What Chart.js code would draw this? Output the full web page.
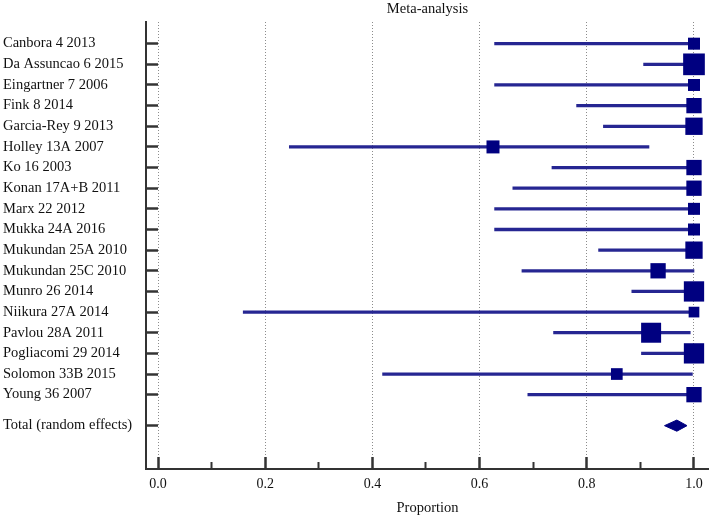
<!DOCTYPE html>
<html>
<head>
<meta charset="utf-8">
<script src="https://cdn.jsdelivr.net/npm/chart.js@4/dist/chart.umd.min.js"></script>
<style>
  html, body { margin: 0; padding: 0; background: #ffffff; }
  #wrap { width: 709px; height: 522px; position: relative; }
</style>
</head>
<body>
<div id="wrap"><canvas id="c"></canvas></div>
<script>
// ---- Data ----
const studies = [
  "Canbora 4 2013", "Da Assuncao 6 2015", "Eingartner 7 2006", "Fink 8 2014",
  "Garcia-Rey 9 2013", "Holley 13A 2007", "Ko 16 2003", "Konan 17A+B 2011",
  "Marx 22 2012", "Mukka 24A 2016", "Mukundan 25A 2010", "Mukundan 25C 2010",
  "Munro 26 2014", "Niikura 27A 2014", "Pavlou 28A 2011", "Pogliacomi 29 2014",
  "Solomon 33B 2015", "Young 36 2007"
];
const estimate = [1.0, 1.0, 1.0, 1.0, 1.0, 0.625, 1.0, 1.0, 1.0, 1.0, 1.0, 0.933, 1.0, 1.0, 0.920, 1.0, 0.856, 1.0];
const ciLow    = [0.628, 0.906, 0.628, 0.781, 0.831, 0.245, 0.735, 0.662, 0.628, 0.628, 0.822, 0.679, 0.884, 0.159, 0.738, 0.902, 0.419, 0.690];
const ciHigh   = [1.0, 1.0, 1.0, 1.0, 1.0, 0.916, 1.0, 1.0, 1.0, 1.0, 1.0, 1.0, 1.0, 1.0, 0.993, 1.0, 0.997, 1.0];
const weightBox = [12, 21.7, 12, 15.3, 17.3, 13, 15.3, 15.3, 12, 12, 17.3, 15.3, 20.3, 10.7, 20, 20.3, 11.7, 15.3]; // marker side (px)
const totalLabel = "Total (random effects)";
const totalEstimate = 0.968;
const totalLow = 0.945;
const totalHigh = 0.987;
const xTicksMajor = [0.0, 0.2, 0.4, 0.6, 0.8, 1.0];
const xTicksMinor = [0.1, 0.3, 0.5, 0.7, 0.9];
const chartTitle = "Meta-analysis";
const xTitle = "Proportion";

// ---- Build chart ----
const rowPos = studies.map((s, i) => i + 1);
const totalPos = studies.length + 1.5;
const yTickPos = rowPos.concat([totalPos]);
const yTickLabels = studies.concat([totalLabel]);
const diamondHalf = 0.27; // half-height of diamond in row units

const NAVY = "#000080";
const LINEC = "#262692";
const AXIS = "#333333";
const FONT = "'Liberation Serif', 'Times New Roman', serif";

const ciData = studies.map((s, i) => ({ y: rowPos[i], x: [ciLow[i], ciHigh[i]] }));
const pointData = studies.map((s, i) => ({ x: estimate[i], y: rowPos[i] }));
const pointRadii = weightBox.map(w => w / Math.SQRT2);
const diamondData = [
  { x: totalLow, y: totalPos },
  { x: totalEstimate, y: totalPos - diamondHalf },
  { x: totalHigh, y: totalPos },
  { x: totalEstimate, y: totalPos + diamondHalf },
  { x: totalLow, y: totalPos }
];

const X_MIN = -0.0224, X_MAX = 1.028;
const noPad = (s) => { s.paddingLeft = 0; s.paddingRight = 0; };

new Chart(document.getElementById('c'), {
  data: {
    datasets: [
      {
        type: 'bar',
        label: 'CI',
        data: ciData,
        backgroundColor: LINEC,
        borderWidth: 0,
        barThickness: 2.6,
        xAxisID: 'x',
        yAxisID: 'y',
        order: 2
      },
      {
        type: 'scatter',
        label: 'Estimate',
        data: pointData,
        pointStyle: 'rect',
        pointRadius: pointRadii,
        pointHoverRadius: pointRadii,
        backgroundColor: NAVY,
        borderColor: NAVY,
        borderWidth: 0,
        clip: false,
        xAxisID: 'x',
        yAxisID: 'y',
        order: 1
      },
      {
        type: 'scatter',
        label: 'Total',
        data: diamondData,
        showLine: true,
        fill: 'shape',
        backgroundColor: NAVY,
        borderColor: NAVY,
        borderWidth: 1,
        pointRadius: 0,
        tension: 0,
        xAxisID: 'x',
        yAxisID: 'y',
        order: 0
      }
    ]
  },
  options: {
    responsive: true,
    maintainAspectRatio: false,
    animation: false,
    indexAxis: 'y',
    layout: { autoPadding: false, padding: { left: 3, right: 0, top: 0, bottom: 0 } },
    plugins: {
      legend: { display: false },
      tooltip: { enabled: false },
      title: { display: false }
    },
    scales: {
      x: {
        type: 'linear',
        position: 'bottom',
        weight: 1,
        min: X_MIN,
        max: X_MAX,
        afterBuildTicks: (s) => { s.ticks = xTicksMajor.map(v => ({ value: v })); },
        afterFit: (s) => { s.height = 53; noPad(s); },
        ticks: {
          color: '#111111',
          font: { family: FONT, size: 14 },
          padding: 19,
          maxRotation: 0,
          autoSkip: false,
          callback: (v) => Number(v).toFixed(1)
        },
        grid: {
          drawOnChartArea: true,
          color: '#8c8c8c',
          lineWidth: 1,
          drawTicks: true,
          tickLength: -12,
          tickColor: AXIS,
          tickWidth: 2.5,
          tickBorderDash: []
        },
        border: { display: true, color: AXIS, width: 2, dash: [1, 2] },
        title: {
          display: true,
          text: xTitle,
          color: '#111111',
          font: { family: FONT, size: 14.5 },
          padding: { top: 0, bottom: 5 }
        }
      },
      xMinor: {
        type: 'linear',
        position: 'bottom',
        weight: 0,
        min: X_MIN,
        max: X_MAX,
        afterBuildTicks: (s) => { s.ticks = xTicksMinor.map(v => ({ value: v })); },
        afterFit: (s) => { s.height = 0; noPad(s); },
        ticks: { display: false },
        grid: {
          drawOnChartArea: false,
          drawTicks: true,
          tickLength: -7,
          tickColor: AXIS,
          tickWidth: 2
        },
        border: { display: false }
      },
      xTop: {
        type: 'linear',
        position: 'top',
        min: X_MIN,
        max: X_MAX,
        afterFit: (s) => { s.height = 22; noPad(s); },
        ticks: { display: false },
        grid: { display: false },
        border: { display: false },
        title: {
          display: true,
          text: chartTitle,
          color: '#111111',
          font: { family: FONT, size: 14.5 },
          padding: { top: 0, bottom: 6 }
        }
      },
      y: {
        type: 'linear',
        position: 'left',
        reverse: true,
        offset: false,
        min: -0.05,
        max: 21.6,
        afterBuildTicks: (s) => { s.ticks = yTickPos.map(v => ({ value: v })); },
        afterFit: (s) => { s.width = 143; },
        ticks: {
          crossAlign: 'far',
          color: '#111111',
          font: { family: FONT, size: 14.5 },
          autoSkip: false,
          callback: (v) => {
            const idx = yTickPos.indexOf(v);
            return idx >= 0 ? yTickLabels[idx] : '';
          }
        },
        grid: {
          offset: false,
          drawOnChartArea: false,
          drawTicks: true,
          tickLength: -12,
          tickColor: AXIS,
          tickWidth: 2.5
        },
        border: { display: true, color: AXIS, width: 2 }
      }
    }
  }
});
</script>
</body>
</html>
